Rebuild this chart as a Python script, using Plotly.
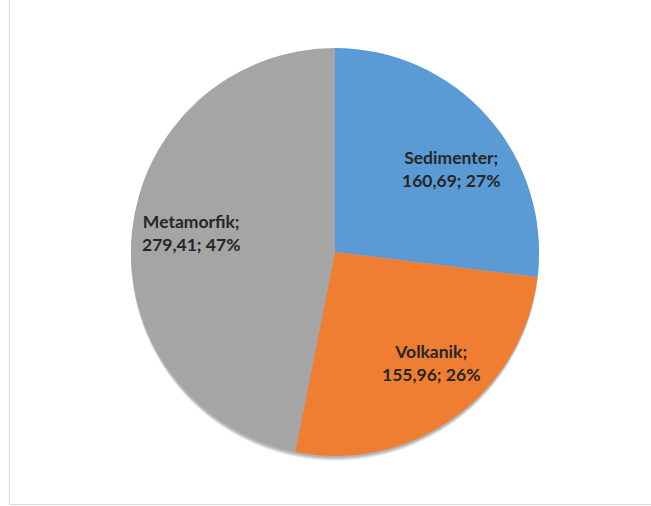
import math
import plotly.graph_objects as go

# Rock types and their totals
categories = ["Sedimenter", "Volkanik", "Metamorfik"]
values = [160.69, 155.96, 279.41]
percent_labels = ["27%", "26%", "47%"]
value_labels = ["160,69", "155,96", "279,41"]
colors = ["#5b9bd5", "#ef7d32", "#a5a5a5"]

W, H = 651, 506
CX, CY, R = 335, 252, 204  # pie centre and radius in pixels

dom_x = [(CX - R) / W, (CX + R) / W]
dom_y = [1 - (CY + R) / H, 1 - (CY - R) / H]

fig = go.Figure()

# soft drop shadow beneath the pie
for dy, op in [(5, 0.05), (4, 0.07), (3, 0.09), (2, 0.11)]:
    fig.add_trace(go.Pie(
        values=[1], labels=["s"], marker=dict(colors=["#000000"]),
        opacity=op, textinfo="none", hoverinfo="skip", showlegend=False,
        domain=dict(x=dom_x, y=[dom_y[0] - dy / H, dom_y[1] - dy / H]),
    ))

fig.add_trace(go.Pie(
    labels=categories, values=values, sort=False, direction="clockwise",
    rotation=0, marker=dict(colors=colors, line=dict(width=0)),
    textinfo="none", showlegend=False, domain=dict(x=dom_x, y=dom_y),
))

# data labels placed near each slice's bisector (small angular nudge per label)
label_nudge_deg = [6, -5, 2]
label_radius = [0.70, 0.72, 0.71]
total = sum(values)
cum = 0.0
annotations = []
for cat, v, vl, pl, nd, rf in zip(categories, values, value_labels,
                                  percent_labels, label_nudge_deg, label_radius):
    mid = (cum + v / 2) / total * 2 * math.pi + math.radians(nd)
    cum += v
    r = rf * R
    px = CX + r * math.sin(mid)
    py = CY - r * math.cos(mid)
    annotations.append(dict(
        x=px / W, y=1 - py / H, xref="paper", yref="paper",
        text=f"<b>{cat};<br>{vl}; {pl}</b>", showarrow=False,
        font=dict(family="Lato", size=17.5, color="#262626"),
        align="center", xanchor="center", yanchor="middle",
    ))

shapes = [
    dict(type="line", xref="paper", yref="paper", x0=9.5 / W, x1=9.5 / W,
         y0=1, y1=1 - 504.5 / H, line=dict(color="#d9d9d9", width=1)),
    dict(type="line", xref="paper", yref="paper", x0=9.5 / W, x1=1,
         y0=1 - 504.5 / H, y1=1 - 504.5 / H, line=dict(color="#d9d9d9", width=1)),
]

fig.update_layout(
    width=W, height=H, margin=dict(l=0, r=0, t=0, b=0),
    paper_bgcolor="white", plot_bgcolor="white",
    annotations=annotations, shapes=shapes,
)

fig.write_html("out.html")
